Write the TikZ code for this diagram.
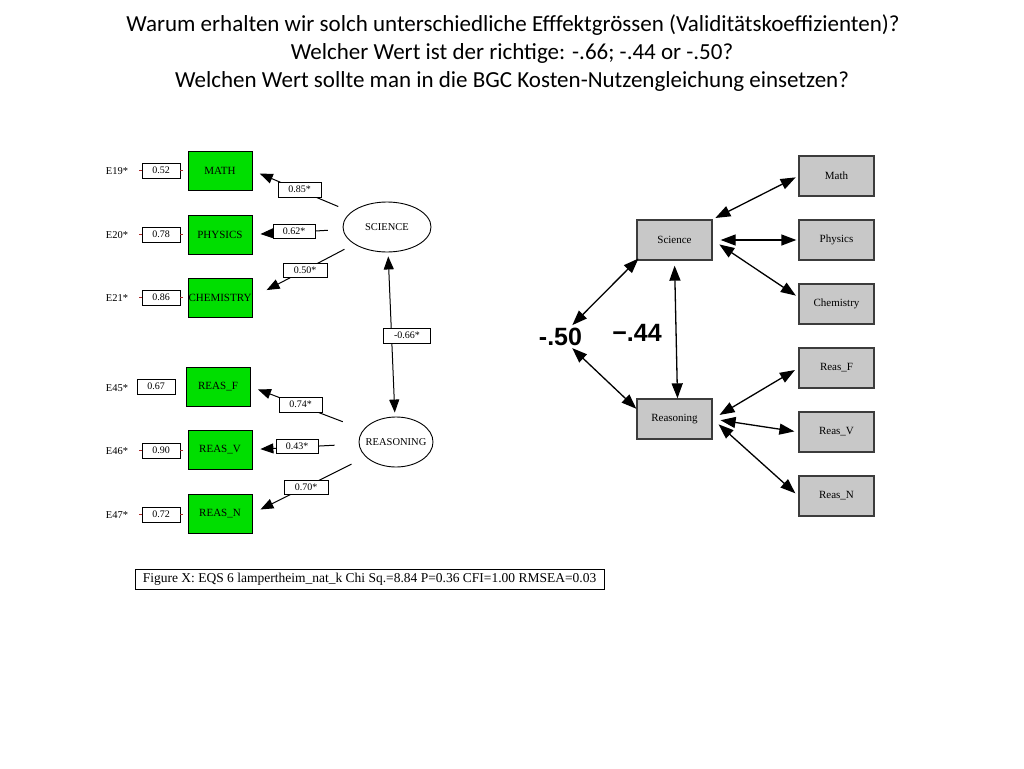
\documentclass[tikz,border=0pt]{standalone}
\usepackage{fontspec}
\setmainfont{Liberation Serif}
\newfontfamily\titlefont{Carlito}
\newfontfamily\boldsans{Liberation Sans}
\usetikzlibrary{arrows.meta,shapes.geometric}
\definecolor{boxgreen}{RGB}{0,222,0}
\definecolor{boxgray}{RGB}{200,200,200}
\definecolor{boxedge}{RGB}{60,60,60}
\definecolor{tickred}{RGB}{170,40,40}
\tikzset{
  greenbox/.style={draw=black, line width=0.8pt, fill=boxgreen, inner sep=0pt, minimum width=64pt, minimum height=39pt, font=\fontsize{11}{12}\selectfont},
  errbox/.style={draw=black, line width=0.8pt, fill=white, inner sep=0pt, minimum width=38pt, minimum height=15pt, font=\fontsize{10}{11}\selectfont},
  elab/.style={inner sep=0pt, font=\fontsize{10.5}{11}\selectfont},
  coef/.style={draw=black, line width=0.8pt, fill=white, inner sep=0pt, minimum width=43pt, minimum height=15pt, font=\fontsize{10}{11}\selectfont},
  latent/.style={draw=black, line width=0.9pt, ellipse, inner sep=0pt, font=\fontsize{10.5}{11}\selectfont},
  path/.style={draw=black, line width=1pt, -{Triangle[length=13pt,width=10pt]}},
  dpath/.style={draw=black, line width=1pt, {Triangle[length=13pt,width=10pt]}-{Triangle[length=13pt,width=10pt]}},
  graybox/.style={draw=boxedge, line width=1.3pt, fill=boxgray, inner sep=0pt, minimum width=75pt, minimum height=40pt, font=\fontsize{11}{12}\selectfont},
  rpath/.style={draw=black, line width=1.3pt, {Triangle[length=15pt,width=11pt]}-{Triangle[length=15pt,width=11pt]}},
  bignum/.style={inner sep=0pt, font=\boldsans\bfseries\fontsize{25}{26}\selectfont},
  titleline/.style={inner sep=0pt, anchor=base, font=\titlefont\fontsize{23}{27}\selectfont},
  tick/.style={draw=tickred, line width=0.8pt}
}
\begin{document}
\begin{tikzpicture}[x=1pt, y=-1pt]
\useasboundingbox (0,0) rectangle (1024,768);
% title
\node[titleline] (t1) at (513,32) {Warum erhalten wir solch unterschiedliche Efffektgrössen (Validitätskoeffizienten)?};
\node[titleline] (t2) at (512,59.5) {Welcher Wert ist der richtige: -.66; -.44 or -.50?};
\node[titleline] (t3) at (512,87) {Welchen Wert sollte man in die BGC Kosten-Nutzengleichung einsetzen?};

% ---------- left diagram ----------
\node[greenbox] (math) at (220,170.5) {MATH};
\node[greenbox] (phys) at (220,234.5) {PHYSICS};
\node[greenbox] (chem) at (220,297.5) {CHEMISTRY};
\node[greenbox] (reasf) at (218,386.5) {REAS\_F};
\node[greenbox] (reasv) at (220,449.5) {REAS\_V};
\node[greenbox] (reasn) at (220,513.5) {REAS\_N};

\node[errbox] (e1) at (161,170.5) {0.52};
\node[errbox] (e2) at (161,234.5) {0.78};
\node[errbox] (e3) at (161,297.5) {0.86};
\node[errbox] (e4) at (156,386.5) {0.67};
\node[errbox] (e5) at (161,450.5) {0.90};
\node[errbox] (e6) at (161,514.5) {0.72};

\foreach \n in {e1,e2,e3,e5,e6}{
  \draw[tick] (\n.west) -- ++(-3,0);
  \draw[tick] (\n.east) -- ++(3,0);
}

\node[elab] (l1) at (117,171) {E19*};
\node[elab] (l2) at (117,235.5) {E20*};
\node[elab] (l3) at (117,298) {E21*};
\node[elab] (l4) at (117,388) {E45*};
\node[elab] (l5) at (117,451) {E46*};
\node[elab] (l6) at (117,515) {E47*};

\node[latent, minimum width=88pt, minimum height=50pt] (sci) at (387,227) {\makebox[0pt]{SCIENCE}};
\node[latent, minimum width=74pt, minimum height=50pt] (rsn) at (396,442) {\makebox[0pt]{REASONING}};

\draw[path, shorten <=14pt, shorten >=8pt] (sci) -- (math.east);
\draw[path, shorten <=15pt, shorten >=8pt] (sci) -- (phys.east);
\draw[path, shorten <=11pt, shorten >=16pt] (sci) -- (chem.east);
\draw[path, shorten <=22pt, shorten >=8pt] (rsn) -- (reasf.east);
\draw[path, shorten <=24pt, shorten >=8pt] (rsn) -- (reasv.east);
\draw[path, shorten <=16pt, shorten >=9pt] (rsn) -- (reasn.east);
\draw[dpath, shorten <=4pt, shorten >=4pt] (sci) -- (rsn);

\node[coef] (c1) at (299.5,189.5) {0.85*};
\node[coef, minimum width=42pt, minimum height=14pt] (c2) at (294,231) {0.62*};
\node[coef, minimum width=44pt, minimum height=14pt] (c3) at (305,270) {0.50*};
\node[coef] (c4) at (300.5,404.5) {0.74*};
\node[coef, minimum width=42pt, minimum height=14pt] (c5) at (297,446) {0.43*};
\node[coef, minimum width=44pt, minimum height=14pt] (c6) at (306,487) {0.70*};
\node[coef, minimum width=47pt] (c7) at (407,335.5) {-0.66*};

\node[draw=black, line width=1pt, fill=white, inner sep=0pt, minimum width=469pt, minimum height=20pt, font=\fontsize{13.5}{14}\selectfont] (cap) at (369.5,579) {Figure X: EQS 6 lampertheim\_nat\_k Chi Sq.=8.84 P=0.36 CFI=1.00 RMSEA=0.03};

% ---------- right diagram ----------
\node[graybox] (scir) at (674.5,240) {Science};
\node[graybox] (rsnr) at (674.5,419) {Reasoning};
\node[graybox] (mathr) at (836.5,176) {Math};
\node[graybox] (physr) at (836.5,240) {Physics};
\node[graybox] (chemr) at (836.5,304) {Chemistry};
\node[graybox] (reasfr) at (836.5,368) {Reas\_F};
\node[graybox] (reasvr) at (836.5,432) {Reas\_V};
\node[graybox] (reasnr) at (836.5,496) {Reas\_N};

\node[bignum] (m50) at (560.5,337) {-.50};
\node[bignum] (m44) at (637,333) {−.44};

\draw[rpath, shorten <=3pt, shorten >=3pt] (scir.north east) -- (mathr.west);
\draw[rpath, shorten <=8pt, shorten >=2pt] (scir.east) -- (physr.west);
\draw[rpath, shorten <=8pt, shorten >=3pt] (scir.east) -- (chemr.170);
\draw[rpath, shorten <=-3pt, shorten >=4pt] (scir.south west) -- (m50);
\draw[rpath, shorten <=3pt, shorten >=0pt] (m50) -- (rsnr.165);
\draw[rpath, shorten <=5pt, shorten >=0pt] (scir.south) -- ([xshift=3pt]rsnr.north);
\draw[rpath, shorten <=8pt, shorten >=4pt] (rsnr.east) -- (reasfr.west);
\draw[rpath, shorten <=8pt, shorten >=4pt] (rsnr.east) -- (reasvr.west);
\draw[rpath, shorten <=8pt, shorten >=4pt] (rsnr.east) -- (reasnr.west);
\end{tikzpicture}
\end{document}
